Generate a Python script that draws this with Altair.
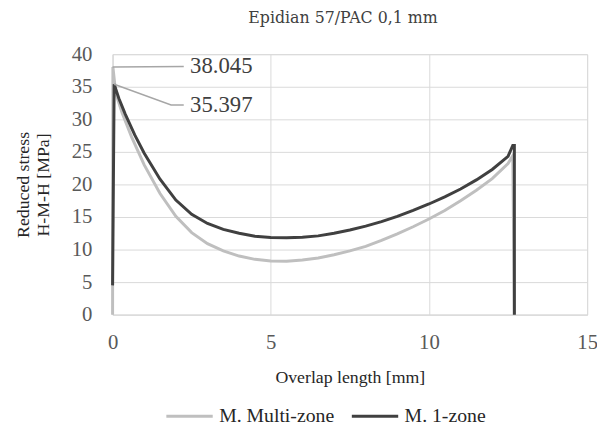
import altair as alt
import pandas as pd

# Data
dark_x = [0.0, 0.05, 0.2, 0.4, 0.7, 1.0, 1.5, 2.0, 2.5, 3.0, 3.5, 4.0, 4.5, 5.0, 5.5, 6.0, 6.5, 7.0,
          7.5, 8.0, 8.5, 9.0, 9.5, 10.0, 10.5, 11.0, 11.5, 12.0, 12.5, 12.65, 12.7, 12.7]
dark_y = [4.5, 35.397, 33.2, 30.8, 27.6, 24.8, 20.8, 17.6, 15.4, 14.0, 13.1, 12.5, 12.05, 11.85, 11.8,
          11.9, 12.1, 12.5, 13.0, 13.6, 14.3, 15.1, 16.0, 17.0, 18.1, 19.3, 20.7, 22.3, 24.3, 26.0,
          26.0, 0.0]

light_x = [0.0, 0.01, 0.1, 0.3, 0.6, 1.0, 1.5, 2.0, 2.5, 3.0, 3.5, 4.0, 4.5, 5.0, 5.5, 6.0, 6.5, 7.0,
           7.5, 8.0, 8.5, 9.0, 9.5, 10.0, 10.5, 11.0, 11.5, 12.0, 12.5, 12.65, 12.7]
light_y = [0.0, 38.045, 34.0, 31.0, 27.3, 23.0, 18.6, 15.1, 12.6, 10.9, 9.8, 9.0, 8.5, 8.25, 8.2, 8.4,
           8.7, 9.2, 9.8, 10.5, 11.4, 12.4, 13.5, 14.7, 16.0, 17.5, 19.1, 20.9, 23.2, 24.4, 0.0]

series_names = ["M. Multi-zone", "M. 1-zone"]
series_colors = ["#bfbfbf", "#404040"]

# annotation labels (data units)
ann_text = ["38.045", "35.397"]
ann_text_x = [2.45, 2.45]
ann_text_y = [38.1, 32.2]
lead1_x = [0.0, 2.25]
lead1_y = [38.045, 38.1]
lead2_x = [0.05, 1.85, 2.25]
lead2_y = [35.397, 32.2, 32.2]

FONT = "Liberation Serif"

dark_df = pd.DataFrame({"x": dark_x, "y": dark_y, "i": range(len(dark_x))})
light_df = pd.DataFrame({"x": light_x, "y": light_y, "i": range(len(light_x))})
ann_df = pd.DataFrame({"x": ann_text_x, "y": ann_text_y, "t": ann_text})
lead1_df = pd.DataFrame({"x": lead1_x, "y": lead1_y, "i": range(len(lead1_x))})
lead2_df = pd.DataFrame({"x": lead2_x, "y": lead2_y, "i": range(len(lead2_x))})

xscale = alt.Scale(domain=[0, 15], nice=False)
yscale = alt.Scale(domain=[0, 40], nice=False)
color_scale = alt.Scale(domain=series_names, range=series_colors)

xenc = alt.X("x:Q", scale=xscale,
             axis=alt.Axis(values=[0, 5, 10, 15], title="Overlap length [mm]",
                           labelFontSize=21, labelPadding=17, titleFontSize=18,
                           titlePadding=17, titleFontWeight="normal", labelOverlap=False,
                           ticks=False, gridColor="#d9d9d9", domainColor="#d9d9d9",
                           labelColor="#595959", titleColor="#262626", labelFont=FONT,
                           titleFont=FONT, labelFlush=False))
yenc = alt.Y("y:Q", scale=yscale,
             axis=alt.Axis(values=[0, 5, 10, 15, 20, 25, 30, 35, 40], tickCount=9,
                           title=["Reduced stress", "H-M-H [MPa]"],
                           labelFontSize=21, labelPadding=21, titleFontSize=18,
                           titleFontWeight="normal", ticks=False, gridColor="#d9d9d9",
                           domainColor="#d9d9d9", labelColor="#595959", titleColor="#262626",
                           labelFont=FONT, titleFont=FONT, titleX=-90, titleY=132,
                           titleAlign="center", titleBaseline="middle", titleLineHeight=20,
                           labelFlush=False, labelOverlap=False))

light = alt.Chart(light_df).mark_line(strokeWidth=3).encode(
    x=xenc, y=yenc, order="i:Q",
    color=alt.Color("s:N", scale=color_scale,
                    legend=alt.Legend(title=None, orient="none", legendX=53, legendY=342,
                                      direction="horizontal", symbolType="stroke",
                                      symbolSize=2209, symbolStrokeWidth=3, labelFontSize=20,
                                      labelFont=FONT, labelColor="#262626", columnPadding=11,
                                      labelOffset=5, labelLimit=300))
).transform_calculate(s="'M. Multi-zone'")

dark = alt.Chart(dark_df).mark_line(strokeWidth=3).encode(
    x=xenc, y=yenc, order="i:Q",
    color=alt.Color("s:N", scale=color_scale)
).transform_calculate(s="'M. 1-zone'")

l1 = alt.Chart(lead1_df).mark_line(color="#a6a6a6", strokeWidth=1.5).encode(
    x=xenc, y=yenc, order="i:Q")
l2 = alt.Chart(lead2_df).mark_line(color="#a6a6a6", strokeWidth=1.5).encode(
    x=xenc, y=yenc, order="i:Q")
txt = alt.Chart(ann_df).mark_text(align="left", baseline="middle", fontSize=23, font=FONT,
                                  color="#404040").encode(x=xenc, y=yenc, text="t:N")

chart = alt.layer(light, dark, l1, l2, txt).properties(
    width=481, height=264,
    title=alt.TitleParams("Epidian 57/PAC 0,1 mm", fontSize=16, font="DejaVu Serif",
                          fontWeight="normal", color="#404040", offset=18, dx=-7),
    autosize=alt.AutoSizeParams(type="none"),
    padding={"left": 106, "top": 44, "right": 10, "bottom": 110},
).configure_view(stroke=None).configure(background="white")

chart.save("out.html", embed_options={"renderer": "svg", "actions": False})
